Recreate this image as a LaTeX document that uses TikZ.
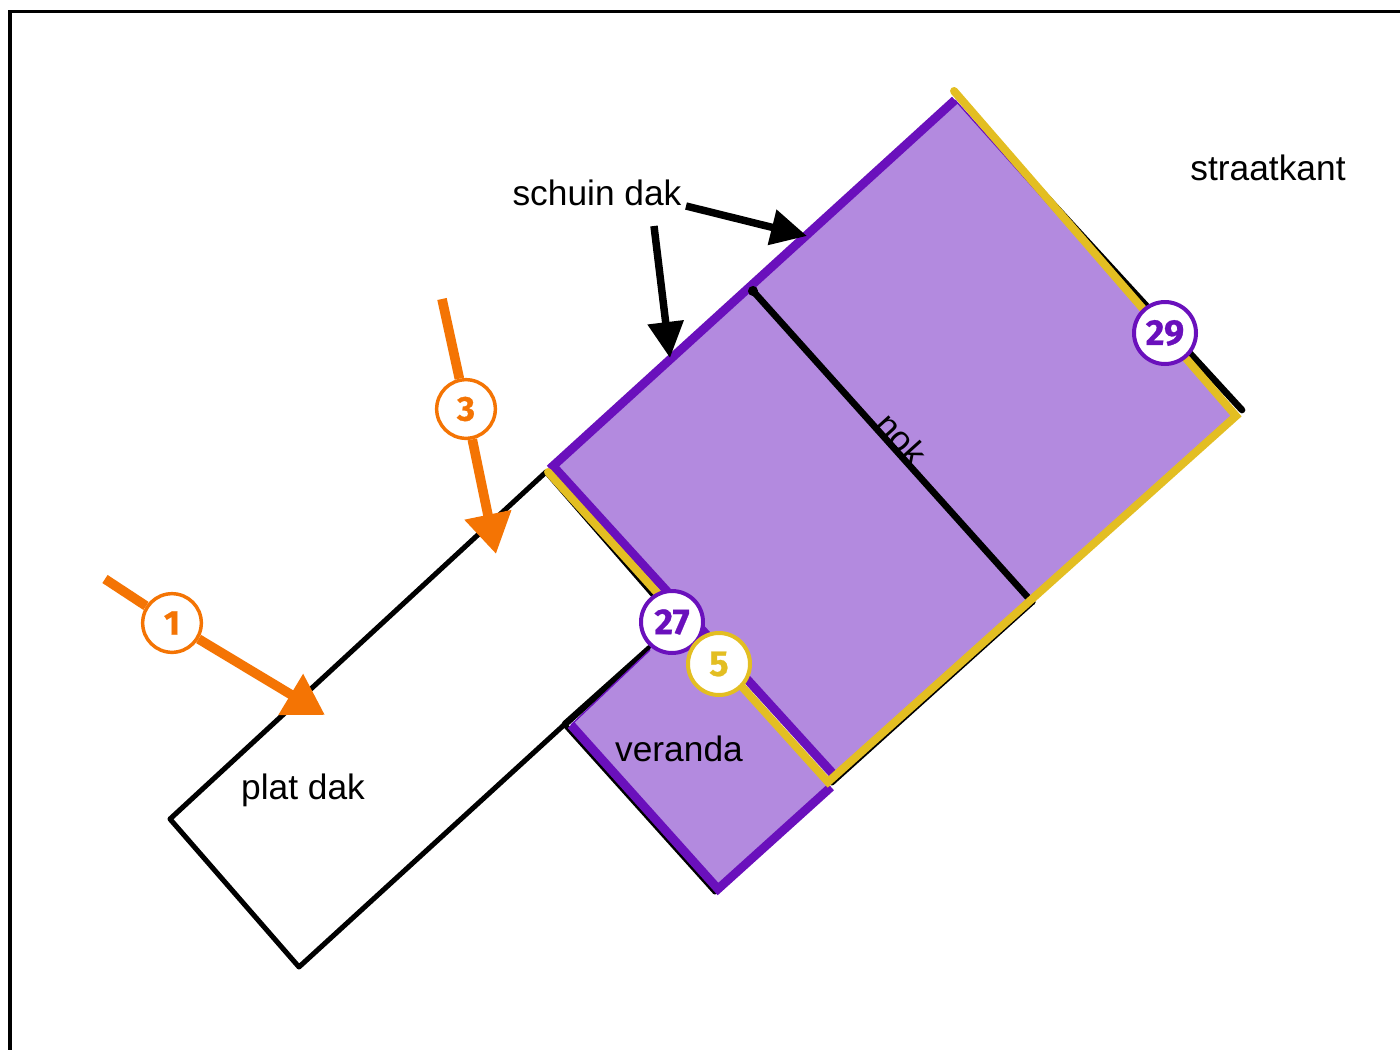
\documentclass[tikz,border=0pt]{standalone}
\usepackage{fontspec}
\setmainfont{Liberation Sans}
\newfontfamily\numfont[BoldFont={* Bold},BoldFeatures={FakeBold=0.7}]{Fira Sans}
\usetikzlibrary{arrows.meta}
\definecolor{roof}{HTML}{B38ADF}
\definecolor{purp}{HTML}{6A10BC}
\definecolor{yel}{HTML}{E3BE22}
\definecolor{org}{HTML}{F47404}
\tikzset{
  lbl/.style={font=\fontsize{26.5pt}{30pt}\selectfont,inner sep=0pt,text=black},
  badge/.style={circle,draw=#1,text=#1,fill=white,line width=3pt,minimum size=46.5pt,inner sep=0pt,font=\numfont\bfseries\fontsize{27pt}{29pt}\selectfont},
  badgeS/.style={circle,draw=#1,text=#1,fill=white,line width=2.6pt,minimum size=44pt,inner sep=0pt,font=\numfont\bfseries\fontsize{26pt}{28pt}\selectfont},
  wall/.style={draw=black,line width=3.8pt,line join=round,line cap=round},
  heavy/.style={draw=black,line width=5pt,line cap=round},
  edgeP/.style={draw=purp,line width=6.6pt,line cap=butt,line join=miter},
  edgeY/.style={draw=yel,line width=6pt,line cap=round,line join=miter},
  orgline/.style={draw=org,line width=7.2pt},
  orgarrow/.style={orgline,-{Triangle[length=30pt,width=34pt]}},
  blkarrow/.style={draw=black,line width=5.6pt,-{Triangle[length=27pt,width=26pt]}},
}
\begin{document}
\begin{tikzpicture}[x=0.75pt,y=-0.75pt]
\useasboundingbox (0,0) rectangle (1400,1050);
\fill[white] (0,0) rectangle (1400,1050);
% vertices
\coordinate (pa) at (546,472);
\coordinate (pb) at (170,819);
\coordinate (pc) at (299,967);
\coordinate (pd) at (565,724);
\coordinate (pe) at (650,648);
\coordinate (pf) at (660,603);
\coordinate (ta) at (955,100);
\coordinate (tb) at (1236,414);
\coordinate (tc) at (830,778);
\coordinate (td) at (553,466);
\coordinate (te) at (836,777);
\coordinate (tm) at (669,600);
\coordinate (va) at (650,650);
\coordinate (vb) at (571,725);
\coordinate (vc) at (718,889);
\coordinate (vd) at (831,787);
\coordinate (ya) at (954,91);
\coordinate (yb) at (1236,416);
\coordinate (yc) at (828,782);
\coordinate (yd) at (548,472);
\coordinate (nokA) at (753,291);
\coordinate (nokB) at (1032,602);
\coordinate (rbA) at (1040,190);
\coordinate (rbB) at (1242,410);
\coordinate (rcA) at (1033,602);
\coordinate (rcB) at (832,783);
\coordinate (vl) at (565,725);
\coordinate (vm) at (715,892);
% frame
\draw[black,line width=2.4pt] (10,1052) -- (10,11.5) -- (1402,11.5);
% plain outline
\draw[wall] (pa) -- (pb) -- (pc) -- (pd);
\draw[wall] (pa) -- (pf);
\draw[wall] (rcA) -- (rcB);
\draw[heavy] (rbA) -- (rbB);
\draw[heavy] (pd) -- (pe);
\draw[wall] (vl) -- (vm);
% roofs
\fill[roof] (va) -- (vb) -- (vc) -- (vd) -- (yc) -- (tm) -- cycle;
\fill[roof] (ta) -- (tb) -- (tc) -- (td) -- cycle;
\draw[purp,line width=1pt] (va) -- (vb);
\draw[purp,line width=1pt] (tb) -- (tc);
\draw[purp,line width=1pt] (ta) -- (tb);
\path[edgeP] (ta) -- (td) -- (te);
\path[edgeP] (vb) -- (vc) -- (vd);
% nok
\draw[heavy] (nokA) -- (nokB);
\fill[black] (nokA) circle (3.8pt);
% yellow edges
\draw[edgeY] (ya) -- (yb) -- (yc) -- (yd);
% labels
\node[lbl] (straat) at (1268,168) {straatkant};
\node[lbl] (schuin) at (597,193) {schuin dak};
\node[lbl] (plat) at (303,790) {plat dak};
\node[lbl] (veranda) at (679,749) {veranda};
\node[lbl,rotate=-48] (nok) at (902,439) {nok};
% black arrows
\coordinate (s1) at (654,226);
\coordinate (s1t) at (670,358);
\coordinate (s2) at (686,206);
\coordinate (s2t) at (807,236);
\draw[blkarrow] (s1) -- (s1t);
\draw[blkarrow] (s2) -- (s2t);
% badges
\node[badgeS=org] (b1) at (172,623) {1};
\node[badgeS=org] (b3) at (466,409) {3};
\node[badge=purp] (b27) at (672,622) {27};
\node[badge=yel] (b5) at (719,664) {5};
\node[badge=purp] (b29) at (1165,333) {29};
% orange arrows
\coordinate (o1) at (105,579);
\coordinate (o1t) at (325,715);
\coordinate (o3) at (442,299);
\coordinate (o3t) at (496,554);
\draw[orgline] (o1) -- (b1);
\draw[orgarrow] (b1) -- (o1t);
\draw[orgline] (o3) -- (b3);
\draw[orgarrow] (b3) -- (o3t);
\end{tikzpicture}
\end{document}
